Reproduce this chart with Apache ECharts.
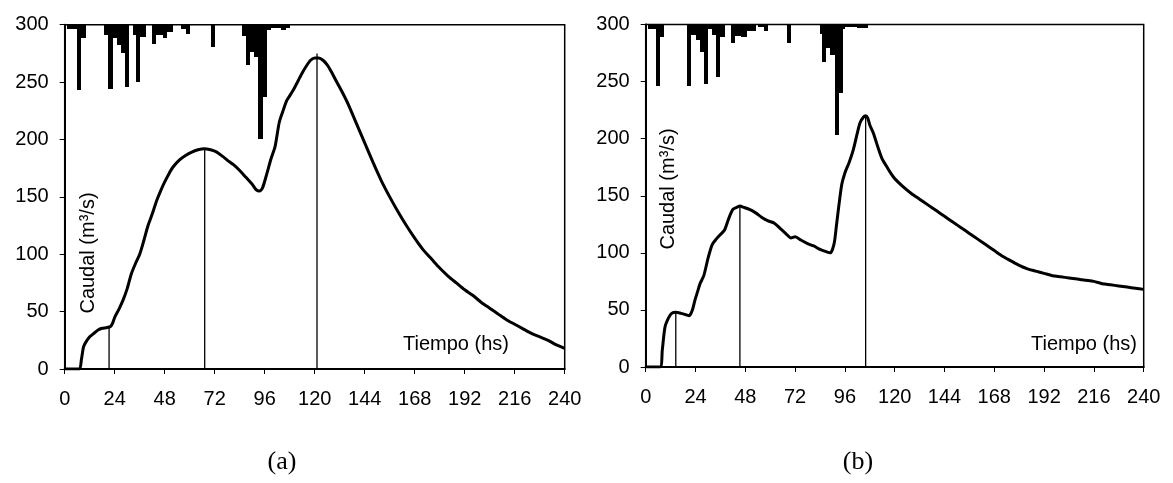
<!DOCTYPE html>
<html><head><meta charset="utf-8">
<script src="https://cdn.jsdelivr.net/npm/echarts@6/dist/echarts.min.js"></script>
<style>html,body{margin:0;padding:0;background:#fff}#c{width:1173px;height:483px}</style>
</head><body><div id="c"></div>
<script>
// ---- Data ----
const xMax = 240, xStep = 24, yMax = 300, yStep = 50;

// Panel (a) hydrograph
const hoursA = [0,7,8,9,10,12,14,16,18,20,22,23,24,26,28,30,32,34,36,38,40,42,44,46,48,50,52,55,58,61,64,67,70,73,76,78,81,84,87,90,92,93.5,95,97,99,101,103,105,106.6,108,110,112,114,116,118,120,122,124,126,128,130,133,136,140,144,148,152,156,160,164,168,172,176,180,184,188,192,196,200,204,208,212,216,220,224,228,232,236,240];
const flowA  = [0,0,8,19,23,28,31,34,35.5,36,37,40,45,52,60,70,83,92,100,112,125,135,146,155,163,170,176,182,186,189,191,192,191,189,185,182,178,173,167,161,156,155,158,170,183,194,215,226,234,238,244,251,258,264,269,271,271,269,265,259,252,242,231,214,197,180,164,150,137,125,114,104,96,88,81,75,69,64,58,53,48,43,39,35,31,28,25,21,18];
const rainHoursA = [1,2,3,4,5,6,7,8,9,19,20,21,22,23,24,25,26,27,28,29,30,33,34,35,36,37,38,42,43,44,45,46,47,48,49,50,51,56,57,58,59,70,71,85,86,87,88,89,90,91,92,93,94,95,96,97,98,99,100,101,102,103,104,105,106,107];
const rainDepthA = [4,4,4,4,4,57,57,12,12,9,9,56,56,12,12,18,18,25,25,54,54,9,50,50,11,11,11,17,17,9,9,9,12,12,6,6,6,4,4,8,8,19,19,10,10,35,35,24,24,28,28,100,100,63,63,5,5,3,3,3,3,3,5,5,3,3];
const markHoursA = [21.3, 67.2, 121.1];
const markTopsA  = [37, 192, 275];

// Panel (b) hydrograph
const hoursB = [0,6.9,8,9.3,11,12.5,14.5,17,19,21,22.5,23.8,25,26.2,28,30,32,34,36,38,40,42,44,45.5,47,50,53,56,59,62,65,68,70,72,75,78,81,84,87,89,90,91,92,93,94.5,96,98,100,102,103.3,105,106,107,108,109.7,112,114,116,118,120,124,128,132,136,140,144,148,152,156,160,164,168,172,176,180,184,188,192,196,200,204,208,212,216,220,224,228,232,236,240];
const flowB  = [0,0,15,35,43,47,48,47,46,45,50,59,66,73,80,95,107,112,116,120,130,138,140,141,140,138,135,131,128,126,121,116,113,114,111,108,106,103,101,100,103,110,125,140,160,170,179,190,205,214,219,220,218,212,205,192,182,176,170,165,158,152,147,142,137,132,127,122,117,112,107,102,97,93,89,86,84,82,80,79,78,77,76,75,73,72,71,70,69,68];
const rainHoursB = [1,2,3,4,5,6,7,8,20,21,22,23,24,25,26,27,28,29,30,31,32,33,34,35,36,37,41,42,43,44,45,46,47,48,49,50,51,52,54,55,56,57,58,68,69,84,85,86,87,88,89,90,91,92,93,94,95,96,97,98,99,100,101,102,103,104,105,106];
const rainDepthB = [4,4,4,4,54,54,11,11,54,54,9,9,14,14,24,24,52,52,4,4,9,9,46,46,11,11,16,16,10,10,10,11,11,11,6,6,6,6,2,2,2,6,6,16,16,8,33,33,21,21,27,27,97,97,60,60,4,2,2,2,2,2,2,3,3,3,3,3];
const markHoursB = [14.5, 45.4, 106];
const markTopsB  = [48, 141, 220];

const yLabel = 'Caudal (m³/s)';
const xLabel = 'Tiempo (hs)';
const panelLabels = ['(a)', '(b)'];

// ---- Chart ----
const FONT = 'Liberation Sans';
function zip(a, b) { return a.map((v, i) => [v, b[i]]); }

function rainItem(params, api) {
  const h = api.value(0), d = api.value(1);
  const p0 = api.coord([h, yMax]);
  const p1 = api.coord([h + 1, yMax - d]);
  const x0 = Math.round(p0[0]), x1 = Math.round(p1[0]);
  const y0 = Math.round(p0[1]), y1 = Math.round(p1[1]);
  return { type: 'rect',
    shape: { x: x0, y: y0, width: x1 - x0, height: y1 - y0 },
    style: { fill: '#000' } };
}

function xAxisDef(gi) {
  return { gridIndex: gi, type: 'value', min: 0, max: xMax, interval: xStep,
    axisLine: { show: true, onZero: false, lineStyle: { color: '#000', width: 2 } },
    axisTick: { show: true, inside: false, length: 5, lineStyle: { color: '#000', width: 1 } },
    axisLabel: { color: '#000', fontSize: 20, fontFamily: FONT, margin: 20 },
    splitLine: { show: false } };
}
function yAxisDef(gi) {
  return { gridIndex: gi, type: 'value', min: 0, max: yMax, interval: yStep,
    axisLine: { show: true, lineStyle: { color: '#000', width: 2 } },
    axisTick: { show: true, inside: false, length: 5, lineStyle: { color: '#000', width: 1 } },
    axisLabel: { color: '#000', fontSize: 20, fontFamily: FONT, margin: 16 },
    splitLine: { show: false } };
}

const panels = [
  { hours: hoursA, flow: flowA, rh: rainHoursA, rd: rainDepthA, mh: markHoursA, mt: markTopsA },
  { hours: hoursB, flow: flowB, rh: rainHoursB, rd: rainDepthB, mh: markHoursB, mt: markTopsB }
];

const series = [];
panels.forEach((p, gi) => {
  series.push({ type: 'custom', xAxisIndex: gi, yAxisIndex: gi, renderItem: rainItem,
    data: zip(p.rh, p.rd), encode: { x: 0, y: 1 }, silent: true, z: 2, clip: true });
  p.mh.forEach((h, k) => {
    series.push({ type: 'line', xAxisIndex: gi, yAxisIndex: gi, data: [[h, 0], [h, p.mt[k]]],
      showSymbol: false, lineStyle: { color: '#000', width: 1.3 }, silent: true, z: 3 });
  });
  series.push({ type: 'line', xAxisIndex: gi, yAxisIndex: gi, data: zip(p.hours, p.flow),
    smooth: 0.25, showSymbol: false, lineStyle: { color: '#000', width: 3 }, silent: true, z: 4 });
});

const option = {
  backgroundColor: '#fff',
  animation: false,
  grid: [
    { left: 64.7, top: 24.7, width: 500, height: 344.3, show: true, borderColor: '#000', borderWidth: 1.5, backgroundColor: 'transparent' },
    { left: 645.7, top: 24.5, width: 498, height: 342.5, show: true, borderColor: '#000', borderWidth: 1.5, backgroundColor: 'transparent' }
  ],
  xAxis: [xAxisDef(0), xAxisDef(1)],
  yAxis: [yAxisDef(0), yAxisDef(1)],
  series: series,
  graphic: [
    { type: 'text', x: 88, y: 253, rotation: Math.PI / 2, style: { text: yLabel, fontSize: 20, fontFamily: FONT, fill: '#000', align: 'center', verticalAlign: 'middle' } },
    { type: 'text', x: 668, y: 189, rotation: Math.PI / 2, style: { text: yLabel, fontSize: 20, fontFamily: FONT, fill: '#000', align: 'center', verticalAlign: 'middle' } },
    { type: 'text', x: 456, y: 344, style: { text: xLabel, fontSize: 20, fontFamily: FONT, fill: '#000', align: 'center', verticalAlign: 'middle' } },
    { type: 'text', x: 1084, y: 344, style: { text: xLabel, fontSize: 20, fontFamily: FONT, fill: '#000', align: 'center', verticalAlign: 'middle' } },
    { type: 'text', x: 282, y: 462, style: { text: panelLabels[0], fontSize: 26, fontFamily: 'Liberation Serif', fill: '#000', align: 'center', verticalAlign: 'middle' } },
    { type: 'text', x: 858, y: 462, style: { text: panelLabels[1], fontSize: 26, fontFamily: 'Liberation Serif', fill: '#000', align: 'center', verticalAlign: 'middle' } }
  ]
};
echarts.init(document.getElementById('c')).setOption(option);
</script></body></html>
